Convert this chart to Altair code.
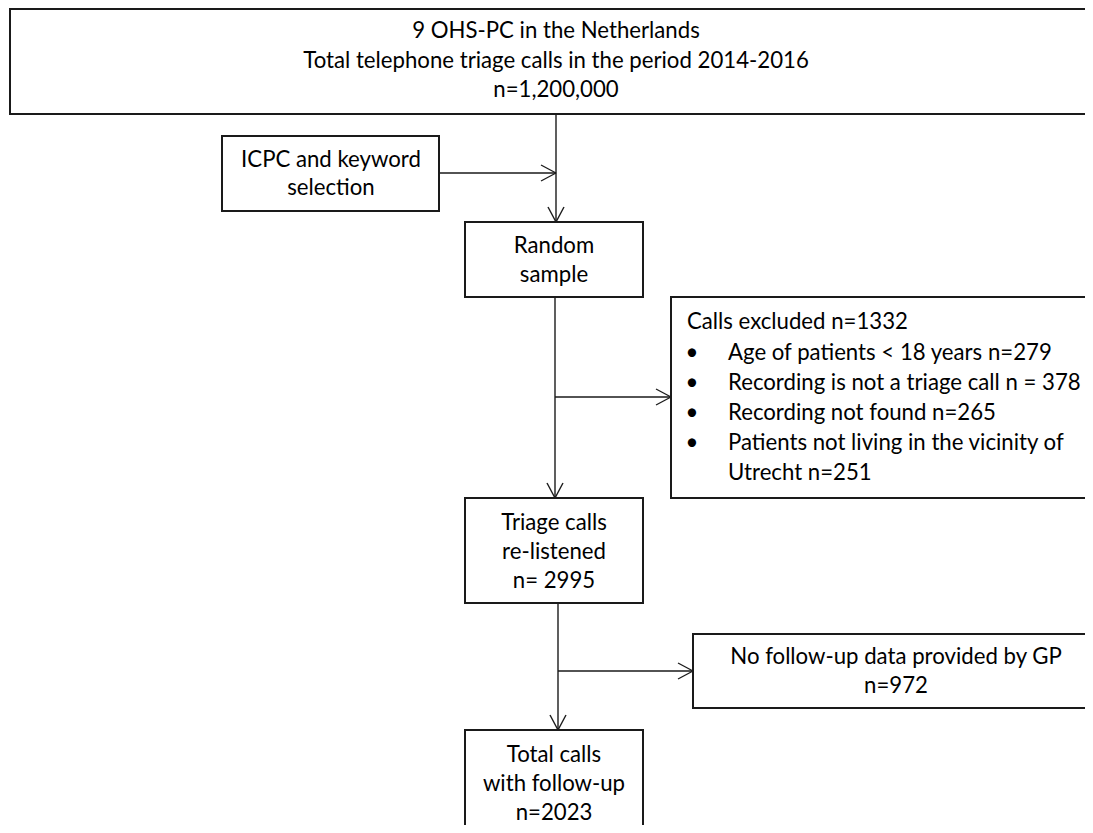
import altair as alt
import pandas as pd

# ---- boxes (left, right, top, bottom) in picture pixels ----
box_left = [10, 222, 465, 671, 465, 693, 465]
box_right = [1100, 439, 643, 1100, 643, 1100, 643]
box_top = [9, 136, 222, 297, 498, 634, 730]
box_bottom = [114, 211, 297, 498, 603, 708, 870]

# ---- connector lines (x1, y1, x2, y2) ----
seg_x1 = [556, 439, 555, 555, 558, 558]
seg_y1 = [114, 173, 297, 397, 603, 671]
seg_x2 = [556, 556, 555, 671, 558, 693]
seg_y2 = [222, 173, 498, 397, 730, 671]

# ---- arrow tips (x, y, direction) ----
tip_x = [556, 556, 555, 671, 558, 693]
tip_y = [222, 173, 498, 397, 730, 671]
tip_dir = ["down", "right", "down", "right", "down", "right"]

# ---- centred text lines ----
ctext = [
    "9 OHS-PC in the Netherlands",
    "Total telephone triage calls in the period 2014-2016",
    "n=1,200,000",
    "ICPC and keyword", "selection",
    "Random", "sample",
    "Triage calls", "re-listened", "n= 2995",
    "No follow-up data provided by GP", "n=972",
    "Total calls", "with follow-up", "n=2023",
]
ctext_x = [556, 556, 556, 331, 331, 554, 554, 554, 554, 554, 896, 896, 554, 554, 554]
ctext_y = [31, 61, 90, 160, 188, 246, 275, 523, 552, 581, 657, 686, 755, 784, 813]

# ---- left aligned text (exclusion box) ----
ltext = [
    "Calls excluded n=1332",
    "Age of patients < 18 years n=279",
    "Recording is not a triage call n = 378",
    "Recording not found  n=265",
    "Patients not living in the vicinity of",
    "Utrecht n=251",
]
ltext_x = [687, 728, 728, 728, 728, 728]
ltext_y = [322, 353, 383, 413, 443, 473]
bullet_y = [353, 383, 413, 443]
bullet_x = 692

FONT = "Lato"
FS = 22.2

X = alt.Scale(domain=[8, 1085])
Y = alt.Scale(domain=[8, 825], reverse=True)

boxes = pd.DataFrame({"x": box_left, "x2": box_right, "y": box_top, "y2": box_bottom})
segs = pd.DataFrame({"x": seg_x1, "y": seg_y1, "x2": seg_x2, "y2": seg_y2})

head = []
L, W = 15, 8
for tx, ty, d in zip(tip_x, tip_y, tip_dir):
    if d == "down":
        head.append({"x": tx - W, "y": ty - L, "x2": tx, "y2": ty})
        head.append({"x": tx + W, "y": ty - L, "x2": tx, "y2": ty})
    else:
        head.append({"x": tx - L, "y": ty - W, "x2": tx, "y2": ty})
        head.append({"x": tx - L, "y": ty + W, "x2": tx, "y2": ty})
segs = pd.concat([segs, pd.DataFrame(head)], ignore_index=True)

ct = pd.DataFrame({"x": ctext_x, "y": ctext_y, "t": ctext})
lt = pd.DataFrame({"x": ltext_x, "y": ltext_y, "t": ltext})
bt = pd.DataFrame({"x": [bullet_x] * len(bullet_y), "y": bullet_y, "t": ["•"] * len(bullet_y)})

rect_layer = alt.Chart(boxes).mark_rect(
    fill="white", stroke="#1a1a1a", strokeWidth=2, clip=True
).encode(
    x=alt.X("x:Q", scale=X, axis=None), x2="x2:Q",
    y=alt.Y("y:Q", scale=Y, axis=None), y2="y2:Q",
)

rule_layer = alt.Chart(segs).mark_rule(color="#1a1a1a", strokeWidth=1.4, clip=True).encode(
    x=alt.X("x:Q", scale=X, axis=None), x2="x2:Q",
    y=alt.Y("y:Q", scale=Y, axis=None), y2="y2:Q",
)

ctext_layer = alt.Chart(ct).mark_text(
    font=FONT, fontSize=FS, align="center", baseline="middle", color="black"
).encode(
    x=alt.X("x:Q", scale=X, axis=None), y=alt.Y("y:Q", scale=Y, axis=None), text="t:N"
)

ltext_layer = alt.Chart(lt).mark_text(
    font=FONT, fontSize=FS, align="left", baseline="middle", color="black"
).encode(
    x=alt.X("x:Q", scale=X, axis=None), y=alt.Y("y:Q", scale=Y, axis=None), text="t:N"
)

bullet_layer = alt.Chart(bt).mark_text(
    font=FONT, fontSize=FS, align="center", baseline="middle", color="black"
).encode(
    x=alt.X("x:Q", scale=X, axis=None), y=alt.Y("y:Q", scale=Y, axis=None), text="t:N"
)

chart = alt.layer(
    rule_layer, rect_layer, ctext_layer, ltext_layer, bullet_layer
).properties(
    width=1077, height=817, padding=0, autosize=alt.AutoSizeParams(type="none")
).configure_view(stroke=None)

chart.save("out.html", embed_options={"renderer": "svg", "actions": False})
